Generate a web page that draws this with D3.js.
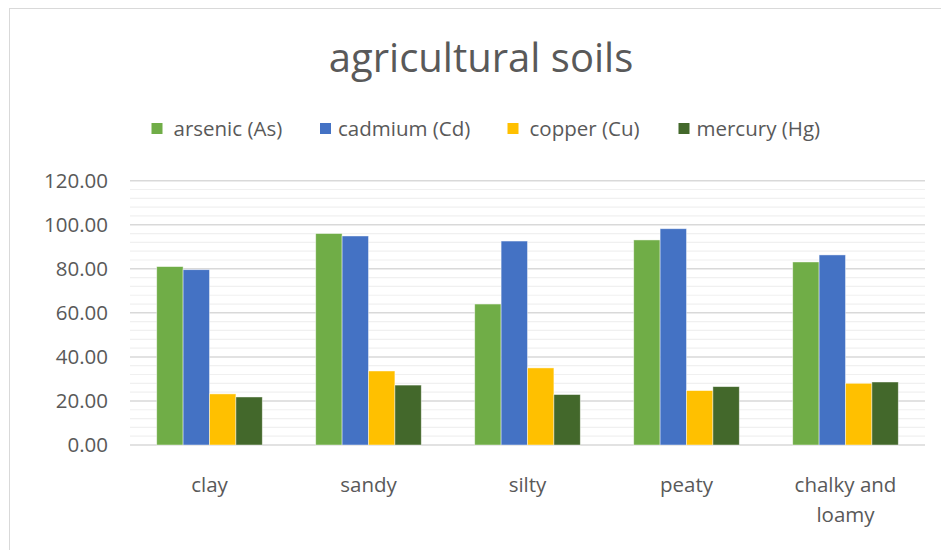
<!DOCTYPE html>
<html>
<head>
<meta charset="utf-8">
<script src="https://cdn.jsdelivr.net/npm/d3@7"></script>
<style>
  html, body { margin: 0; padding: 0; background: #fff; }
  svg { display: block; }
  text { font-family: "Open Sans", "DejaVu Sans", sans-serif; fill: #595959; }
</style>
</head>
<body>
<svg id="chart" width="941" height="550"></svg>
<script>
// Soil types along the x axis
const categories = ["clay", "sandy", "silty", "peaty", "chalky and loamy"];
// Series names, one bar per category each
const seriesNames = ["arsenic (As)", "cadmium (Cd)", "copper (Cu)", "mercury (Hg)"];
const seriesColors = ["#70AD47", "#4472C4", "#FFC000", "#43682B"];
// Values per series, in category order
const arsenic = [81.0, 96.0, 64.0, 93.1, 83.1];
const cadmium = [79.6, 94.9, 92.6, 98.2, 86.3];
const copper  = [23.2, 33.6, 35.0, 24.7, 28.0];
const mercury = [21.8, 27.2, 22.9, 26.5, 28.6];
const seriesValues = [arsenic, cadmium, copper, mercury];
// Value axis ticks
const yTicks = [0, 20, 40, 60, 80, 100, 120];
const yMinorStep = 4;

const svg = d3.select("#chart");

// Chart area frame
svg.append("rect")
  .attr("x", 9.5).attr("y", 8.5)
  .attr("width", 960).attr("height", 560)
  .attr("fill", "#fff")
  .attr("stroke", "#d9d9d9").attr("stroke-width", 1);

const plot = { left: 130, right: 925, top: 180.7, bottom: 445 };

const x0 = d3.scaleBand()
  .domain(categories)
  .range([plot.left, plot.right])
  .paddingInner(0.336)
  .paddingOuter(0.168);

const x1 = d3.scaleBand()
  .domain(seriesNames)
  .range([0, x0.bandwidth()]);

const y = d3.scaleLinear()
  .domain([0, 120])
  .range([plot.bottom, plot.top]);

// Minor gridlines
const minorTicks = d3.range(0, 120 + 1e-9, yMinorStep).filter(v => v % 20 !== 0);
svg.append("g")
  .selectAll("line")
  .data(minorTicks)
  .join("line")
  .attr("x1", plot.left).attr("x2", plot.right)
  .attr("y1", d => y(d)).attr("y2", d => y(d))
  .attr("stroke", "#f0f0f0").attr("stroke-width", 1.2);

// Major gridlines
svg.append("g")
  .selectAll("line")
  .data(yTicks)
  .join("line")
  .attr("x1", plot.left).attr("x2", plot.right)
  .attr("y1", d => y(d)).attr("y2", d => y(d))
  .attr("stroke", "#d9d9d9").attr("stroke-width", 1.5);

// Value axis labels
const yAxis = d3.axisLeft(y)
  .tickValues(yTicks)
  .tickFormat(d3.format(".2f"))
  .tickSize(0)
  .tickPadding(0);
const gy = svg.append("g")
  .attr("transform", `translate(${plot.left - 22},0)`)
  .call(yAxis);
gy.select(".domain").remove();
gy.selectAll("text")
  .attr("font-size", 20.5)
  .attr("fill", "#595959")
  .style("font-family", "'Open Sans', sans-serif");

// Bars
const rows = categories.map((c, i) => ({
  category: c,
  values: seriesNames.map((s, j) => ({ series: s, value: seriesValues[j][i], color: seriesColors[j] }))
}));

svg.append("g")
  .selectAll("g")
  .data(rows)
  .join("g")
  .attr("transform", d => `translate(${x0(d.category)},0)`)
  .selectAll("rect")
  .data(d => d.values)
  .join("rect")
  .attr("x", d => x1(d.series))
  .attr("width", x1.bandwidth())
  .attr("y", d => y(d.value))
  .attr("height", d => y(0) - y(d.value))
  .attr("fill", d => d.color)
  .attr("stroke", "#ffffff")
  .attr("stroke-opacity", 0.55)
  .attr("stroke-width", 0.8);

// Category labels, wrapped onto two lines where long
const xAxis = d3.axisBottom(x0).tickSize(0).tickPadding(0).tickFormat("");
const gx = svg.append("g")
  .attr("transform", `translate(0,${plot.bottom})`)
  .call(xAxis);
gx.select(".domain").remove();

const catLines = c => c === "chalky and loamy" ? ["chalky and", "loamy"] : [c];
svg.append("g")
  .selectAll("text")
  .data(categories)
  .join("text")
  .attr("x", d => x0(d) + x0.bandwidth() / 2)
  .attr("y", 492)
  .attr("text-anchor", "middle")
  .attr("font-size", 20.5)
  .each(function(d) {
    const t = d3.select(this);
    catLines(d).forEach((line, i) => {
      t.append("tspan")
        .attr("x", x0(d) + x0.bandwidth() / 2)
        .attr("dy", i === 0 ? 0 : 30)
        .text(line);
    });
  });

// Title
svg.append("text")
  .attr("x", 481)
  .attr("y", 72)
  .attr("text-anchor", "middle")
  .attr("font-size", 40)
  .text("agricultural soils");

// Legend
const legendX = [151.5, 320, 507.5, 678.5];
const legend = svg.append("g")
  .selectAll("g")
  .data(seriesNames)
  .join("g")
  .attr("transform", (d, i) => `translate(${legendX[i]},123)`);
legend.append("rect")
  .attr("width", 11).attr("height", 11)
  .attr("fill", (d, i) => seriesColors[i]);
legend.append("text")
  .attr("x", (d, i) => i === 1 || i === 3 ? 18 : 22)
  .attr("y", 12.5)
  .attr("font-size", 20.5)
  .text(d => d);
</script>
</body>
</html>
